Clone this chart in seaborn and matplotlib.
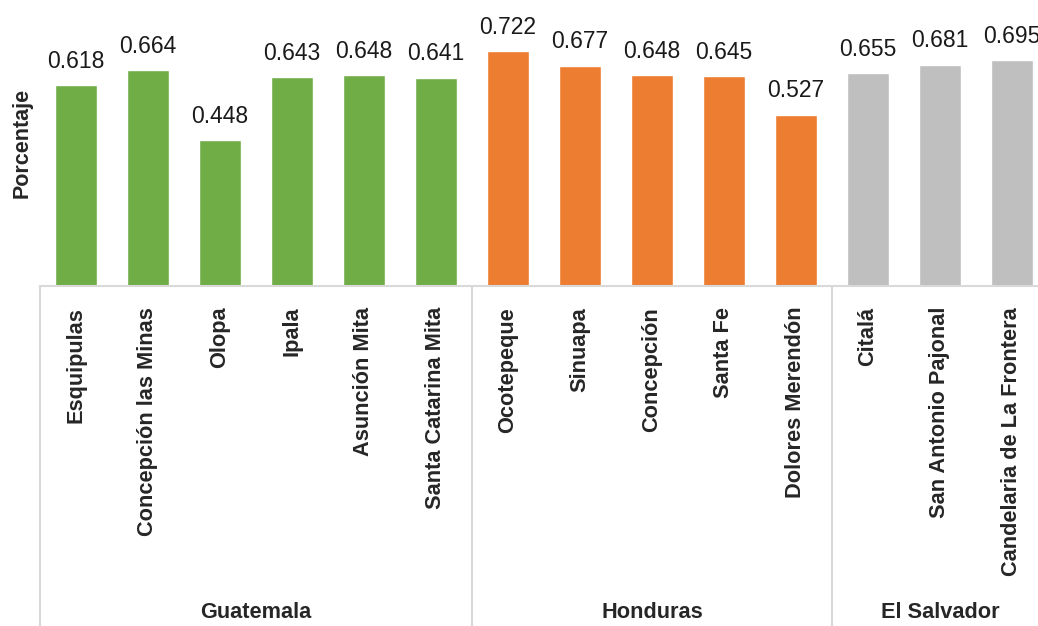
import pandas as pd
import seaborn as sns
import matplotlib.pyplot as plt
import matplotlib.transforms as mtransforms

# Data
municipios = ['Esquipulas', 'Concepción las Minas', 'Olopa', 'Ipala', 'Asunción Mita',
              'Santa Catarina Mita', 'Ocotepeque', 'Sinuapa', 'Concepción', 'Santa Fe',
              'Dolores Merendón', 'Citalá', 'San Antonio Pajonal', 'Candelaria de La Frontera']
paises = ['Guatemala'] * 6 + ['Honduras'] * 5 + ['El Salvador'] * 3
valores = [0.618, 0.664, 0.448, 0.643, 0.648, 0.641,
           0.722, 0.677, 0.648, 0.645, 0.527,
           0.655, 0.681, 0.695]
grupos = ['Guatemala', 'Honduras', 'El Salvador']
colores = ['#70AD47', '#ED7D31', '#BFBFBF']

df = pd.DataFrame({'Municipio': municipios, 'País': paises, 'Porcentaje': valores})

sns.set_style('white')
plt.rcParams['font.family'] = ['Liberation Sans', 'DejaVu Sans']

W, H = 1038, 626
fig = plt.figure(figsize=(W / 100, H / 100), dpi=100)
ax = fig.add_axes([40 / W, 340 / H, 1008 / W, 286 / H])

sns.barplot(data=df, x='Municipio', y='Porcentaje', hue='País', order=municipios,
            hue_order=grupos, palette=colores, dodge=False, width=0.58,
            legend=False, ax=ax, saturation=1)

for cont in ax.containers:
    ax.bar_label(cont, fmt='%.3f', padding=9, fontsize=16.5, color='#1a1a1a')

ax.set_xlim(-0.5, 13.5)
ax.set_ylim(0, 0.88)
ax.set_yticks([])
ax.set_xlabel('')
ax.set_ylabel('Porcentaje', fontsize=15.5, fontweight='bold', labelpad=5)
ax.tick_params(axis='x', length=0, pad=15)
for lab in ax.get_xticklabels():
    lab.set_rotation(90)
    lab.set_fontsize(15.7)
    lab.set_fontweight('bold')
    lab.set_va('top')

for s in ['top', 'right', 'left']:
    ax.spines[s].set_visible(False)
ax.spines['bottom'].set_color('#D9D9D9')
ax.spines['bottom'].set_linewidth(1.5)

# multi-level category separators and group names
trans = mtransforms.blended_transform_factory(ax.transData, ax.transAxes)
for xpos in [-0.5, 5.5, 10.5]:
    ax.plot([xpos, xpos], [0, -1.2], transform=trans, color='#D9D9D9',
            lw=1.5, clip_on=False)

starts = [0, 6, 11]
sizes = [6, 5, 3]
for g, st, n in zip(grupos, starts, sizes):
    ax.text(st + (n - 1) / 2, -1.14, g, transform=trans, ha='center', va='center',
            fontsize=15.7, fontweight='bold')

fig.savefig('out.png', dpi=100)
